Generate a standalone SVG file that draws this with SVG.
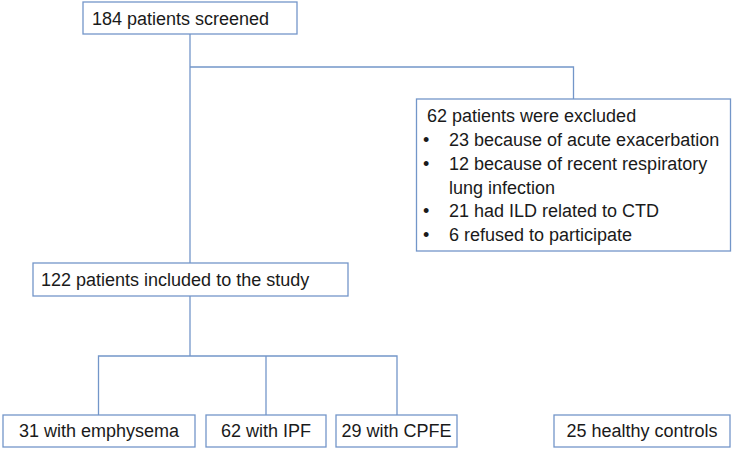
<svg xmlns="http://www.w3.org/2000/svg" width="733" height="450" viewBox="0 0 733 450">
<style>
.box{fill:#ffffff;stroke:#7396c9;stroke-width:1.3}
.line{fill:none;stroke:#7396c9;stroke-width:1.3}
text{font-family:"Liberation Sans",Arial,sans-serif;font-size:18px;fill:#1a1a1a}
.c{text-anchor:middle}
</style>
<rect width="733" height="450" fill="#ffffff"/>
<g id="connectors">
<path class="line" d="M190,34 V263"/>
<path class="line" d="M190,67 H573.5 V99"/>
<path class="line" d="M190,296 V356"/>
<path class="line" d="M98.5,415 V356 H397 V415"/>
<path class="line" d="M266,356 V415"/>
</g>
<g id="screened">
<rect class="box" x="83" y="2" width="214" height="32"/>
<text x="92" y="25">184 patients screened</text>
</g>
<g id="excluded">
<rect class="box" x="416.5" y="99" width="314" height="152"/>
<text x="427" y="122">62 patients were excluded</text>
<text x="423" y="146">•</text><text x="449" y="146">23 because of acute exacerbation</text>
<text x="423" y="170">•</text><text x="449" y="170">12 because of recent respiratory</text>
<text x="449" y="194">lung infection</text>
<text x="423" y="217">•</text><text x="449" y="217">21 had ILD related to CTD</text>
<text x="423" y="241">•</text><text x="449" y="241">6 refused to participate</text>
</g>
<g id="included">
<rect class="box" x="33" y="263" width="315" height="33"/>
<text x="41" y="286">122 patients included to the study</text>
</g>
<g id="emphysema">
<rect class="box" x="3" y="415" width="192" height="32"/>
<text class="c" x="99" y="437">31 with emphysema</text>
</g>
<g id="ipf">
<rect class="box" x="206" y="415" width="120" height="32"/>
<text class="c" x="266" y="437">62 with IPF</text>
</g>
<g id="cpfe">
<rect class="box" x="336" y="415" width="121" height="32"/>
<text class="c" x="396.5" y="437">29 with CPFE</text>
</g>
<g id="controls">
<rect class="box" x="554" y="415" width="176" height="32"/>
<text class="c" x="642" y="437">25 healthy controls</text>
</g>
</svg>
